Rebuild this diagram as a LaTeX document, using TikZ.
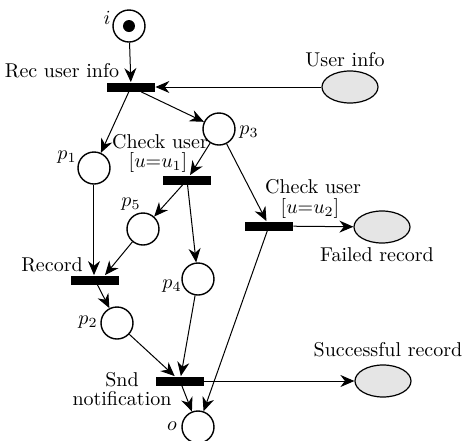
\documentclass[tikz,border=0pt]{standalone}
\usetikzlibrary{arrows.meta,shapes.geometric}
\begin{document}
\begin{tikzpicture}[x=0.5pt, y=-0.5pt,
    place/.style={circle, draw, line width=0.7pt, minimum size=16pt, inner sep=0pt},
    trans/.style={rectangle, fill=black, minimum width=24pt, minimum height=4.5pt, inner sep=0pt},
    store/.style={ellipse, draw, line width=0.6pt, fill=black!10, minimum width=28pt, minimum height=16pt, inner sep=0pt},
    tag/.style={inner sep=0.5pt},
    flow/.style={-{Stealth[length=7pt, width=6pt]}, line width=0.5pt}]
    \useasboundingbox (0,0) rectangle (463,441);

    %places
    \node[place] (i) at (129,26) {};
    \fill (i) circle (3pt);
    \node[place] (p1) at (94,168) {};
    \node[place] (p3) at (219,129) {};
    \node[place] (p5) at (143,229) {};
    \node[place] (p4) at (198,279) {};
    \node[place] (p2) at (117,323) {};
    \node[place] (o) at (198,427) {};

    %transitions
    \node[trans] (recinfo) at (131,87) {};
    \node[trans] (chkone) at (187,180) {};
    \node[trans] (chktwo) at (269,226) {};
    \node[trans] (record) at (95,280) {};
    \node[trans] (sndnote) at (180,381) {};

    %data
    \node[store] (userinfo) at (350,87) {};
    \node[store] (failed) at (382,227) {};
    \node[store] (success) at (383,381) {};

    %labels
    \node[tag] (li) at (107,18) {$i$};
    \node[tag] (lp1) at (67,157) {$p_1$};
    \node[tag] (lp3) at (249,132) {$p_3$};
    \node[tag] (lp5) at (131,204) {$p_5$};
    \node[tag] (lp4) at (172,286) {$p_4$};
    \node[tag] (lp2) at (88,322) {$p_2$};
    \node[tag] (lo) at (172,426) {$o$};
    \node[tag] (lrecinfo) at (62,71) {Rec user info};
    \node[tag] (lchkone) at (160,142) {Check user};
    \node[tag] (lguardone) at (158,162) {$[u{=}u_1]$};
    \node[tag] (lchktwo) at (313,187) {Check user};
    \node[tag] (lguardtwo) at (310,208) {$[u{=}u_2]$};
    \node[tag] (lrecord) at (52,265) {Record};
    \node[tag] (lsnd) at (122,380) {Snd};
    \node[tag] (lnote) at (122,399) {notification};
    \node[tag] (luserinfo) at (345,60) {User info};
    \node[tag] (lfailed) at (377,255) {Failed record};
    \node[tag] (lsuccess) at (388,350) {Successful record};

    %arcs
    \draw[flow] (i) -- (recinfo);
    \draw[flow] (userinfo) -- (recinfo);
    \draw[flow] (recinfo) -- (p1);
    \draw[flow] (recinfo) -- (p3);
    \draw[flow] (p3) -- (chkone);
    \draw[flow] (p3) -- (chktwo);
    \draw[flow] (chkone) -- (p5);
    \draw[flow] (chkone) -- (p4);
    \draw[flow] (p1) -- (p1 |- record.north);
    \draw[flow] (p5) -- ([xshift=5pt]record.north);
    \draw[flow] (record) -- (p2);
    \draw[flow] (p2) -- (sndnote);
    \draw[flow] (p4) -- (sndnote);
    \draw[flow] (sndnote) -- (o);
    \draw[flow] (chktwo) -- (o);
    \draw[flow] (chktwo) -- (failed);
    \draw[flow] (sndnote) -- (success);
\end{tikzpicture}
\end{document}
